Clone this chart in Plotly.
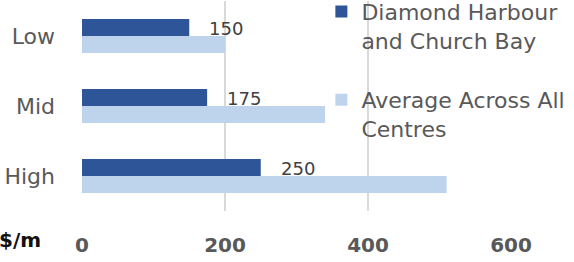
import plotly.graph_objects as go

categories = ["Low", "Mid", "High"]
diamond_harbour = [150, 175, 250]
average_all = [200, 340, 510]
x_ticks = [0, 200, 400, 600]
series_names = ["Diamond Harbour<br>and Church Bay", "Average Across All<br>Centres"]
unit_label = "$/m"

DARK = "#2E5597"
LIGHT = "#BDD4EC"
GRAY = "#595959"
FONT = "DejaVu Sans"

fig = go.Figure()
fig.add_trace(go.Bar(y=categories, x=diamond_harbour, orientation="h", name=series_names[0],
                     marker=dict(color=DARK, line=dict(width=0)), legendgroup="a"))
fig.add_trace(go.Bar(y=categories, x=average_all, orientation="h", name=series_names[1],
                     marker=dict(color=LIGHT, line=dict(width=0)), legendgroup="b"))

for c, v in zip(categories, diamond_harbour):
    fig.add_annotation(x=v, y=c, text=str(v), showarrow=False, xanchor="left", yanchor="middle",
                       xshift=18, yshift=8, font=dict(family=FONT, size=18, color="#404040"))

fig.add_annotation(xref="paper", yref="paper", x=-85 / 429, y=-0.14, text="<b>" + unit_label + "</b>",
                   showarrow=False, xanchor="left", yanchor="middle",
                   font=dict(family=FONT, size=20, color="#111111"))

fig.update_layout(
    width=574, height=262,
    margin=dict(l=82, r=63, t=1, b=51, autoexpand=False),
    barmode="group", bargap=0.514, bargroupgap=0,
    plot_bgcolor="white", paper_bgcolor="white",
    font=dict(family=FONT, color=GRAY),
    showlegend=True,
    legend=dict(x=0.558, y=0.67, xanchor="left", yanchor="middle", valign="top",
                font=dict(family=FONT, size=22, color=GRAY), tracegroupgap=28,
                bgcolor="rgba(0,0,0,0)"),
    xaxis=dict(range=[0, 600], tickvals=x_ticks, showgrid=True, gridcolor="#D9D9D9", gridwidth=1.5,
               zeroline=False, showline=False, ticklabelstandoff=20,
               tickfont=dict(family=FONT, size=20, color=GRAY, weight="bold")),
    yaxis=dict(autorange="reversed", showgrid=False, zeroline=False, showline=False,
               ticklabelstandoff=26, tickfont=dict(family=FONT, size=22, color=GRAY)),
)

fig.write_html("out.html", config={"displayModeBar": False},
               post_script="document.body.style.margin='0';")
